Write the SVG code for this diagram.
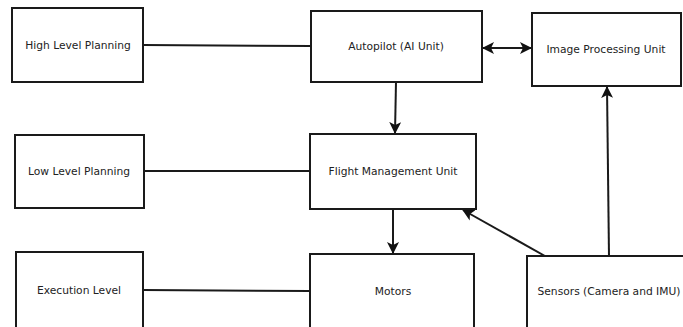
<svg xmlns="http://www.w3.org/2000/svg" width="683" height="327" viewBox="0 0 683 327">
<defs>
<style>
.box{fill:#fff;stroke:#1a1a1a;stroke-width:2}
.lbl{font-family:"DejaVu Sans",sans-serif;font-size:10.7px;fill:#222;text-anchor:middle;dominant-baseline:central}
.ln{fill:none;stroke:#1a1a1a;stroke-width:2}
</style>
<marker id="ah" viewBox="0 0 12 12" refX="11" refY="6" markerWidth="12" markerHeight="12" markerUnits="userSpaceOnUse" orient="auto-start-reverse">
<path d="M0,0 L12,6 L0,12 L3,6 Z" fill="#111"/>
</marker>
</defs>
<rect width="683" height="327" fill="#fff"/>
<g id="connectors">
<line class="ln" x1="143" y1="45" x2="311" y2="46"/>
<line class="ln" x1="144" y1="171" x2="310" y2="171"/>
<line class="ln" x1="143" y1="290" x2="310" y2="291"/>
<line class="ln" x1="483" y1="48" x2="531" y2="48" marker-start="url(#ah)" marker-end="url(#ah)"/>
<line class="ln" x1="396" y1="82" x2="395" y2="133" marker-end="url(#ah)"/>
<line class="ln" x1="393" y1="209" x2="393" y2="253" marker-end="url(#ah)"/>
<line class="ln" x1="545" y1="256" x2="463" y2="210" marker-end="url(#ah)"/>
<line class="ln" x1="609" y1="256" x2="607" y2="87" marker-end="url(#ah)"/>
</g>
<g id="high-level-planning"><rect class="box" x="12" y="8" width="131" height="74"/><text class="lbl" x="78" y="45">High Level Planning</text></g>
<g id="autopilot"><rect class="box" x="311" y="11" width="171" height="71"/><text class="lbl" x="396" y="46">Autopilot (AI Unit)</text></g>
<g id="image-processing-unit"><rect class="box" x="532" y="13" width="149" height="73"/><text class="lbl" x="606" y="49">Image Processing Unit</text></g>
<g id="low-level-planning"><rect class="box" x="15" y="135" width="129" height="73"/><text class="lbl" x="79" y="171">Low Level Planning</text></g>
<g id="flight-management-unit"><rect class="box" x="310" y="134" width="166" height="75"/><text class="lbl" x="393" y="171">Flight Management Unit</text></g>
<g id="execution-level"><rect class="box" x="16" y="252" width="127" height="80"/><text class="lbl" x="79" y="290">Execution Level</text></g>
<g id="motors"><rect class="box" x="310" y="254" width="164" height="80"/><text class="lbl" x="393" y="291">Motors</text></g>
<g id="sensors"><rect class="box" x="527" y="256" width="160" height="80"/><text class="lbl" x="609" y="291">Sensors (Camera and IMU)</text></g>
</svg>
